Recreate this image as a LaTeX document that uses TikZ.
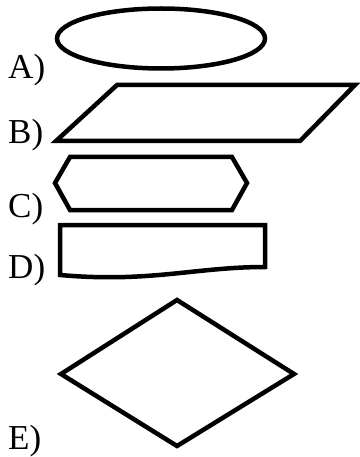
\documentclass[tikz,border=0pt]{standalone}
\usepackage{fontspec}
\setmainfont{Liberation Serif}
\usetikzlibrary{positioning}

\begin{document}
\begin{tikzpicture}[x=1pt, y=-1pt, line width=4.5pt, line join=miter,
    lbl/.style={anchor=base west, inner sep=0pt, font=\fontsize{35}{40}\selectfont}]
  \useasboundingbox (0,0) rectangle (359,457);

  % Labels
  \node[lbl] (la) at (6,79) {A)};
  \node[lbl] (lb) at (6,144) {B)};
  \node[lbl] (lc) at (6,217) {C)};
  \node[lbl] (ld) at (6,278) {D)};
  \node[lbl] (le) at (6,449) {E)};

  % A: terminator
  \draw (161,38.5) ellipse [x radius=104, y radius=30];

  % B: data
  \draw (117,85) -- (355,85) -- (300,141) -- (56,141) -- cycle;

  % C: preparation
  \draw (70,157) -- (232,157) -- (247,183) -- (232,210) -- (70,210) -- (55,183) -- cycle;

  % D: document
  \draw (60,225) -- (265,225) -- (265,267)
    .. controls (195,267) and (150,283) .. (60,275) -- cycle;

  % E: decision
  \draw (177,300) -- (294,374) -- (177,446) -- (61,374) -- cycle;
\end{tikzpicture}
\end{document}
